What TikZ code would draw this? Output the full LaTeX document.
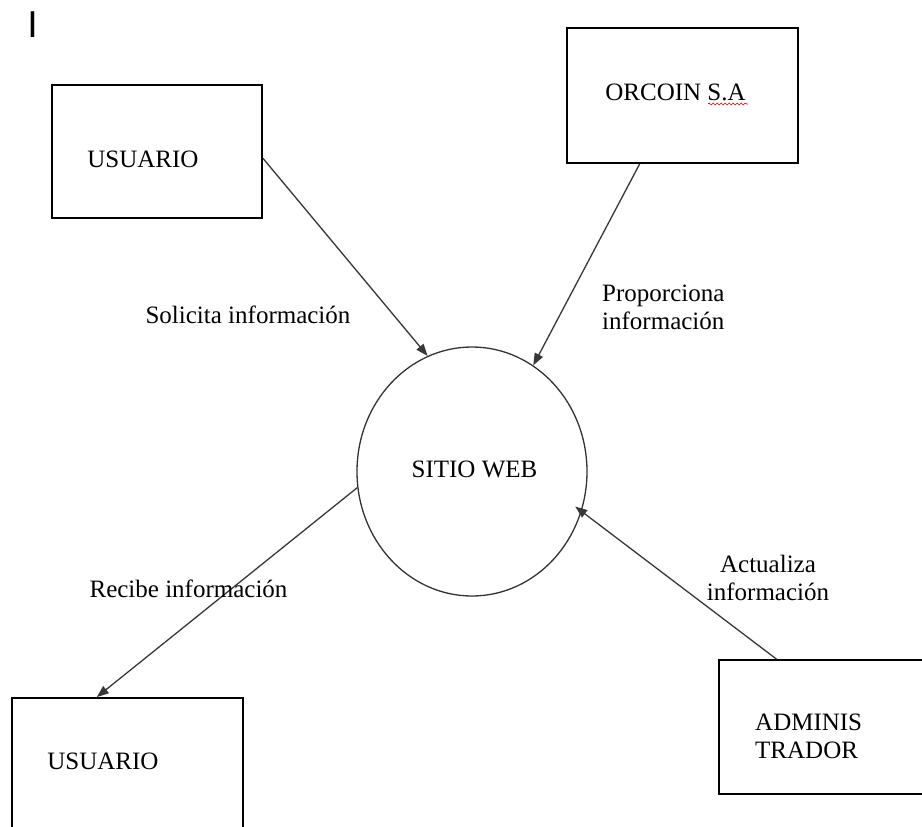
\documentclass[tikz,border=0pt]{standalone}
\usepackage{fontspec}
\setmainfont{Liberation Serif}
\newfontfamily\marksans{Liberation Sans}
\usetikzlibrary{arrows.meta,calc,shapes.geometric,decorations.pathmorphing}
\tikzset{
  entbox/.style={draw=black, line width=1.8pt, rectangle, inner sep=0pt},
  lbl/.style={inner sep=0pt, font=\fontsize{25}{28}\selectfont, anchor=base},
  flow/.style={draw=black!78, line width=1.3pt, -{Triangle[length=12pt,width=9pt]}},
}
\begin{document}
\begin{tikzpicture}[x=1pt,y=-1pt]
\clip (0,0) rectangle (922,827);
\fill[white] (0,0) rectangle (922,827);

% cursor mark
\node[inner sep=0pt, anchor=base, font=\marksans\fontsize{37.5}{40}\selectfont] (cursor) at (32.5,37) {I};

% boxes
\node[entbox, minimum width=210, minimum height=133] (u1) at (157,151.5) {};
\node[entbox, minimum width=231, minimum height=135] (orc) at (682.5,95.5) {};
\node[entbox, minimum width=231, minimum height=162] (u2) at (127.5,779) {};
\node[entbox, minimum width=221, minimum height=134] (adm) at (829.5,727) {};

% process
\node[draw=black!80, line width=1.3pt, ellipse, inner sep=0pt,
      minimum width=230, minimum height=249] (web) at (472,471.5) {};

% texts inside
\node[lbl] (tu1) at (143,167) {USUARIO};
\node[lbl] (torc) at (675.5,100) {ORCOIN S.A};
\node[lbl] (tweb) at (474.5,477) {SITIO WEB};
\node[lbl] (tu2) at (103,769) {USUARIO};
\node[lbl, anchor=base west, align=left] (tadm) at (755,758) {ADMINIS\\TRADOR};

% spell-check squiggle
\draw[red!80!black, line width=0.6pt, decorate,
      decoration={snake, segment length=4pt, amplitude=1pt}]
  (708,104) -- (748,104);

% flows
\draw[flow] ($(u1.north east)!0.55!(u1.south east)$) -- (web.111);
\draw[flow] ($(orc.south west)!0.316!(orc.south east)$) -- (web.60);
\draw[flow] (web.188) -- ($(u2.north west)!0.368!(u2.north east)$);
\draw[flow, shorten >=-8pt] ($(adm.north west)!0.262!(adm.north east)$) -- (web.340);

% flow labels
\node[lbl] (lsol) at (248,323) {Solicita información};
\node[lbl, anchor=base west, align=left] (lpro) at (602,329) {Proporciona\\información};
\node[lbl] (lrec) at (188.5,597) {Recibe información};
\node[lbl, align=center] (lact) at (768,600) {Actualiza\\información};
\end{tikzpicture}
\end{document}
